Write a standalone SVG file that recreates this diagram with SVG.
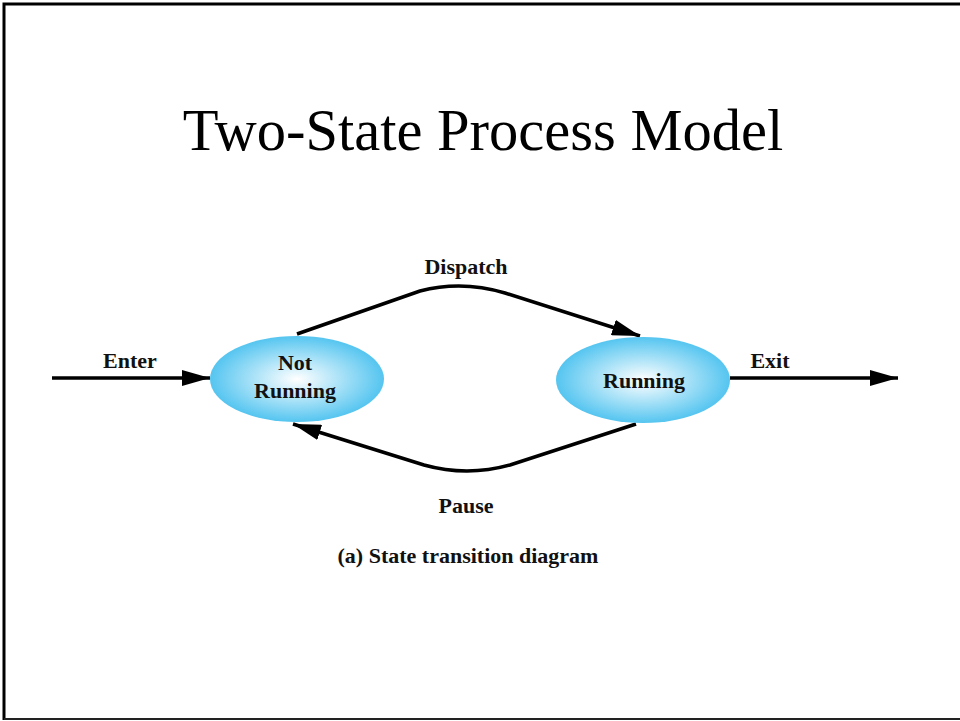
<svg xmlns="http://www.w3.org/2000/svg" width="960" height="721" viewBox="0 0 960 721">
<defs>
<radialGradient id="g" cx="50%" cy="50%" r="50%">
<stop offset="0" stop-color="#ffffff"/>
<stop offset="1" stop-color="#55c5f0"/>
</radialGradient>
<marker id="ahl" viewBox="0 0 28 16" refX="28" refY="8" markerWidth="28" markerHeight="16" markerUnits="userSpaceOnUse" orient="auto">
<path d="M0,0 L28,8 L0,16 L0,8 z" fill="#000"/>
</marker>
</defs>
<style>
.lbl{font-family:"Liberation Serif","Times New Roman",serif;font-weight:bold;font-size:22px;fill:#111;text-anchor:middle}
.edge{fill:none;stroke:#000;stroke-width:3.5}
</style>
<rect x="0" y="0" width="960" height="721" fill="#fff"/>
<path d="M4,720 L4,4 L962,4" fill="none" stroke="#000" stroke-width="3"/>
<line x1="4" y1="719" x2="962" y2="719" stroke="#222" stroke-width="2"/>
<text x="483" y="150" font-family="'Liberation Serif','Times New Roman',serif" font-size="58.5" fill="#000" text-anchor="middle">Two-State Process Model</text>
<g id="connectors">
<path class="edge" d="M52,378 L210,378" marker-end="url(#ahl)"/>
<path class="edge" d="M730,378 L898,378" marker-end="url(#ahl)"/>
<path class="edge" d="M297,334 L420,291 Q462,280 505,293 L640,336" marker-end="url(#ahl)"/>
<path class="edge" d="M636,424 L510,465 Q467,477 424,465 L293,424" marker-end="url(#ahl)"/>
</g>
<g id="not-running">
<ellipse cx="297" cy="379" rx="87" ry="43" fill="url(#g)"/>
<text class="lbl" x="295" y="370">Not</text>
<text class="lbl" x="295" y="398">Running</text>
</g>
<g id="running">
<ellipse cx="643" cy="380" rx="87" ry="43" fill="url(#g)"/>
<text class="lbl" x="644" y="388">Running</text>
</g>
<text class="lbl" x="130" y="368">Enter</text>
<text class="lbl" x="770" y="368">Exit</text>
<text class="lbl" x="466" y="274">Dispatch</text>
<text class="lbl" x="466" y="513">Pause</text>
<text class="lbl" x="468" y="563">(a) State transition diagram</text>
</svg>
